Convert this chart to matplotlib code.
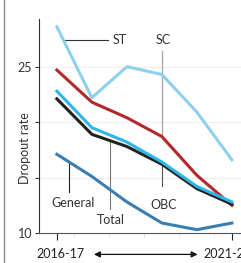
import matplotlib.pyplot as plt
from matplotlib.lines import Line2D

plt.rcParams['font.family'] = ['Lato', 'DejaVu Sans']

# school years, 2016-17 .. 2021-22
years = [0, 1, 2, 3, 4, 5]
year_labels = ['2016-17', '2021-22']

st = [28.6, 22.2, 25.0, 24.3, 20.9, 16.6]
sc = [24.7, 21.8, 20.4, 18.7, 15.2, 12.5]
obc = [22.8, 19.5, 18.2, 16.4, 14.2, 12.8]
total = [22.1, 18.9, 17.8, 16.2, 14.0, 12.6]
general = [17.1, 15.1, 12.8, 10.9, 10.3, 10.9]

fig = plt.figure(figsize=(2.41, 2.63), dpi=100)
ax = fig.add_axes([39 / 241, 30 / 263, 202 / 241, 214 / 263])

ax.plot(years, st, color='#8dd0ee', lw=2.2, zorder=3)
ax.plot(years, sc, color='#b5282a', lw=2.2, zorder=3)
ax.plot(years, general, color='#3a7db2', lw=2.2, zorder=3)
ax.plot(years, total, color='#222222', lw=2.2, zorder=3)
ax.plot(years, obc, color='#2db6e9', lw=2.2, zorder=4)

ax.set_xlim(-0.51, 5.26)
ax.set_ylim(10, 29.3)

ax.set_yticks([10, 15, 20, 25])
ax.set_yticklabels(['10', '', '', '25'], fontsize=9, color='#333333')
ax.tick_params(axis='y', length=3, width=0.8, color='#333333', pad=2)
ax.set_xticks([0, 5])
ax.set_xticklabels(['', ''])
ax.set_xticks([0.5, 1.5, 2.5, 3.5, 4.5], minor=True)
ax.tick_params(axis='x', which='major', length=5, width=0.8, color='#222222')
ax.tick_params(axis='x', which='minor', length=3, width=0.6, color='#dddddd')

for v in [15, 20, 25]:
    ax.axhline(v, color='#eeeeee', lw=0.8, zorder=0)

for s in ['top', 'right']:
    ax.spines[s].set_visible(False)
ax.spines['left'].set_color('#333333')
ax.spines['bottom'].set_color('#555555')
ax.spines['left'].set_linewidth(0.8)
ax.spines['bottom'].set_linewidth(0.8)

fig.text(25 / 241, 1 - 148 / 263, 'Dropout rate', rotation=90, ha='center',
         va='center', fontsize=9, color='#333333')

# series labels with leader lines
lab = dict(fontsize=9, color='#333333')
ax.plot([0.17, 1.45], [27.4, 27.4], color='#333333', lw=0.8)
ax.text(1.6, 27.4, 'ST', ha='left', va='center', **lab)
ax.plot([3, 3], [18.7, 26.4], color='#aaaaaa', lw=1.0, zorder=1)
ax.text(3.05, 27.4, 'SC', ha='center', va='center', **lab)
ax.plot([3, 3], [14.2, 16.2], color='#555555', lw=0.8, zorder=1)
ax.text(3.05, 12.5, 'OBC', ha='center', va='center', **lab)
ax.plot([0.34, 0.34], [13.7, 16.5], color='#222222', lw=0.8)
ax.text(0.45, 12.7, 'General', ha='center', va='center', **lab)
ax.plot([1.52, 1.52], [12.2, 18.2], color='#777777', lw=0.8, zorder=1)
ax.text(1.55, 11.2, 'Total', ha='center', va='center', **lab)

# bottom labels and arrow
ax.text(0.1, -0.1, year_labels[0], transform=ax.get_xaxis_transform(),
        ha='center', va='center', fontsize=9, color='#222222', clip_on=False)
ax.text(4.18, -0.1, year_labels[1], transform=ax.get_xaxis_transform(),
        ha='left', va='center', fontsize=9, color='#222222', clip_on=False)
ax.annotate('', xy=(4.1, -0.1), xytext=(0.98, -0.1),
            xycoords=ax.get_xaxis_transform(), textcoords=ax.get_xaxis_transform(),
            arrowprops=dict(arrowstyle='<|-|>', color='#111111', lw=0.9,
                            mutation_scale=9))

fig.add_artist(Line2D([4 / 241, 4 / 241], [0, 1], color='#888888', lw=1.0))

fig.savefig('out.png', dpi=100)
